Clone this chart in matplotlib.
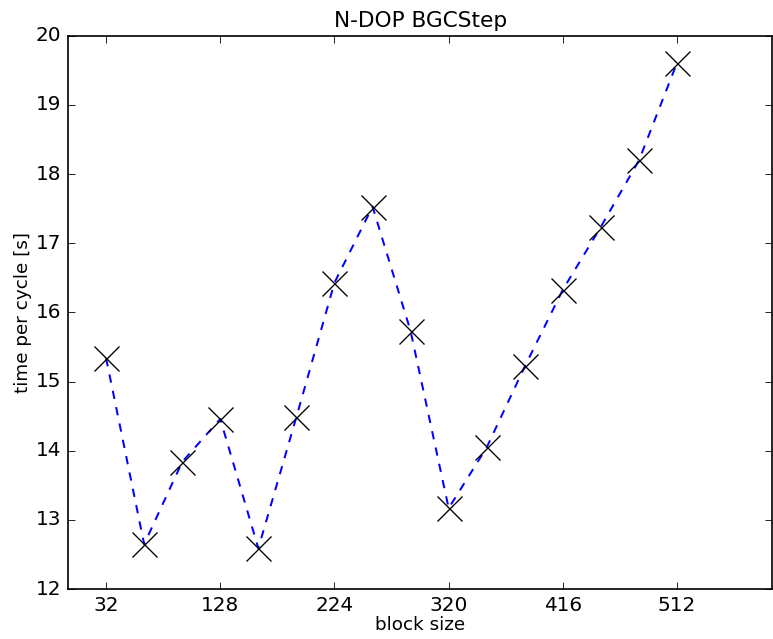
import matplotlib
matplotlib.use("Agg")
import matplotlib.pyplot as plt

# block sizes and measured time per cycle
block_sizes = [32, 64, 96, 128, 160, 192, 224, 256, 288, 320, 352, 384, 416, 448, 480, 512]
time_per_cycle = [15.34, 12.65, 13.84, 14.46, 12.59, 14.49, 16.43, 17.53,
                  15.73, 13.17, 14.05, 15.22, 16.33, 17.24, 18.20, 19.61]
x_ticks = [32, 128, 224, 320, 416, 512]


def plot_timing():
    plt.style.use("classic")
    fig = plt.figure(figsize=(773 / 120, 639 / 120), dpi=120, facecolor="white")
    ax = fig.add_axes([0.088, 0.078, 0.911, 0.866])

    ax.plot(block_sizes, time_per_cycle, "b--", linewidth=1.2, dashes=(5, 5))
    ax.plot(block_sizes, time_per_cycle, "kx", markersize=15, markeredgewidth=0.8)

    ax.set_xlim(0, 592)
    ax.set_ylim(12, 20)
    ax.set_xticks(x_ticks)
    ax.set_title("N-DOP BGCStep", fontsize=13)
    ax.set_xlabel("block size", fontsize=11, labelpad=1)
    ax.set_ylabel("time per cycle [s]", fontsize=11, labelpad=2)
    ax.tick_params(labelsize=12)

    fig.savefig("out.png", dpi=120, facecolor="white")
    plt.close(fig)


if __name__ == "__main__":
    plot_timing()
